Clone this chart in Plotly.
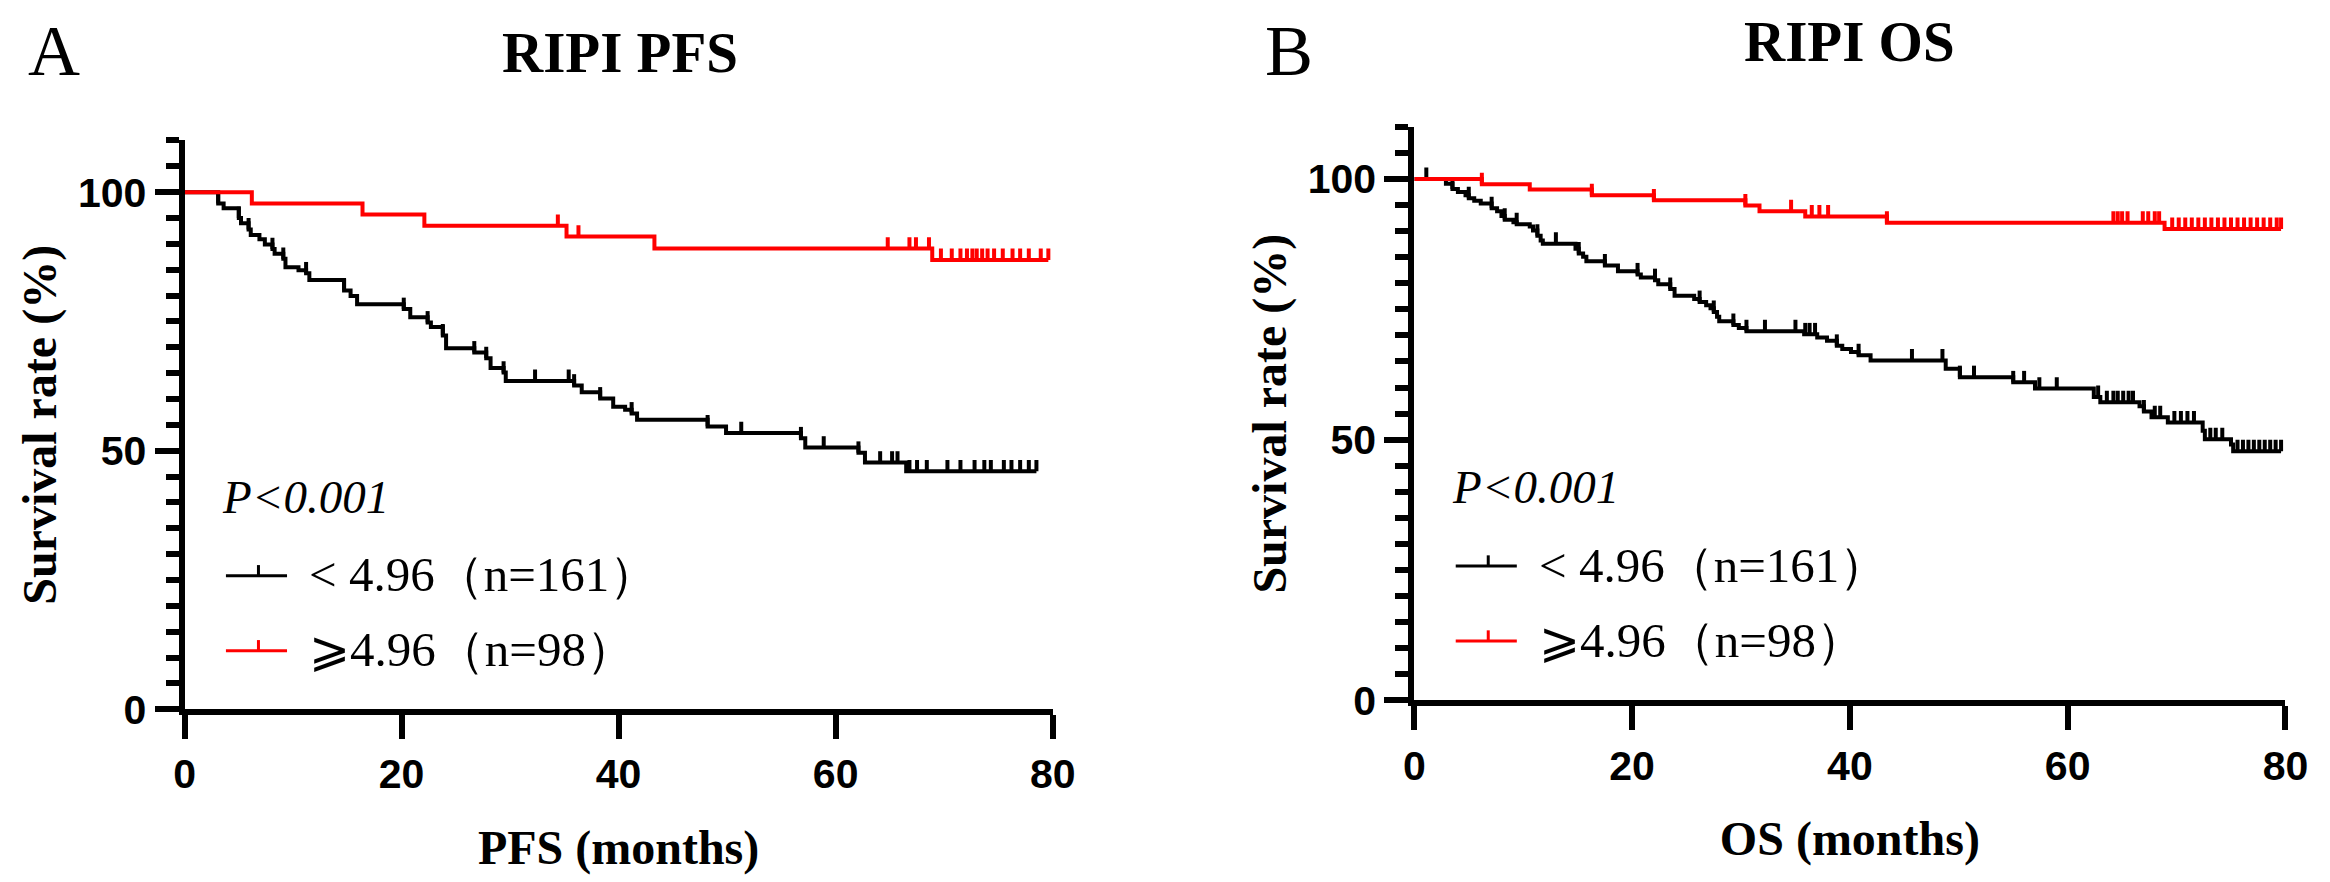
import plotly.graph_objects as go

W, H = 2330, 882

# ---- data (months, survival %) ----
pfs_low_t = [0, 3.1, 3.6, 5.0, 5.2, 5.9, 6.1, 6.9, 7.4, 8.1, 8.3, 9.1, 9.3, 10.5, 11.2, 11.5, 14.7, 15.3, 15.9, 20.2,
             20.8, 22.4, 22.7, 23.8, 24.1, 26.7, 27.8, 28.2, 29.4, 29.6, 35.9, 36.6, 38.3, 39.5, 40.6, 41.2, 41.7, 48.2, 49.9, 56.8,
             57.2, 62.1, 62.7, 66.5]
pfs_low_s = [100, 97.8, 96.9, 95.0, 94.0, 92.8, 91.7, 90.9, 89.9, 89.0, 88.1, 87.1, 85.5, 84.9, 84.3, 83.0, 81.0, 79.9, 78.3, 77.4,
             75.8, 74.8, 73.9, 72.3, 69.8, 69.0, 67.9, 66.0, 65.1, 63.5, 62.6, 61.3, 60.1, 58.5, 57.9, 57.2, 56.0, 54.7, 53.4, 52.4,
             50.6, 49.6, 47.7, 46.0]
pfs_low_c = [3.1, 5.0, 5.9, 8.1, 9.1, 11.2, 14.7, 20.2, 22.4, 23.8, 26.7, 27.8, 29.4, 32.3, 35.4, 35.9, 38.3, 41.2, 48.2, 51.3,
             56.8, 58.9, 62.1, 64.1, 65.2, 65.7, 66.8, 67.5, 68.4, 70.3, 71.5, 72.8, 73.7, 74.3, 75.5, 76.2, 77.0, 77.8, 78.5]

pfs_high_t = [0, 6.2, 16.4, 22.1, 35.2, 43.3, 68.9]
pfs_high_s = [100, 97.8, 95.7, 93.5, 91.4, 89.1, 86.9]
pfs_high_c = [34.4, 36.3, 64.8, 66.8, 67.4, 68.6, 69.7, 70.7, 71.5, 72.1, 72.6, 73.0, 73.5, 74.0, 74.6, 75.4, 76.3, 77.0,
              77.8, 78.9, 79.6]

os_low_t = [0, 2.9, 3.5, 4.0, 4.7, 5.0, 5.5, 6.1, 7.1, 7.6, 8.0, 8.3, 9.1, 9.4, 10.6, 10.9, 11.3, 11.6, 11.8, 14.8,
            15.1, 15.5, 15.8, 17.5, 18.7, 20.5, 20.8, 22.1, 22.4, 23.5, 23.9, 25.7, 26.2, 26.8, 27.2, 27.5, 27.8, 28.0, 29.3, 29.8,
            30.5, 35.8, 37.0, 37.9, 38.8, 39.3, 40.1, 40.8, 41.9, 48.8, 50.1, 55.0, 57.0, 62.4, 63.0, 66.6, 67.0, 67.7, 69.2, 72.4,
            72.6, 75.0, 75.2]
os_low_s = [100, 99.1, 98.1, 97.5, 96.9, 96.3, 95.8, 95.3, 94.4, 93.8, 92.9, 92.2, 91.7, 91.3, 90.9, 90.1, 89.1, 88.2, 87.6, 86.6,
            85.7, 85.1, 84.2, 83.4, 82.3, 81.7, 81.1, 80.6, 79.8, 78.9, 77.6, 77.0, 76.4, 75.8, 75.2, 74.5, 73.6, 72.7, 72.0, 71.4,
            70.8, 70.2, 69.6, 69.0, 68.0, 67.4, 66.8, 66.2, 65.2, 63.6, 62.0, 61.0, 59.8, 58.2, 57.2, 56.4, 55.4, 54.3, 53.3, 51.7,
            50.1, 49.1, 47.8]
os_low_c = [1.1, 3.5, 5.0, 7.1, 8.3, 9.4, 11.3, 13.0, 15.1, 17.5, 20.5, 22.1, 23.5, 26.2, 27.5, 29.3, 30.5, 32.2, 35.0, 35.9,
            36.3, 36.8, 38.8, 40.8, 45.7, 48.5, 50.1, 51.4, 55.0, 56.0, 57.4, 59.0, 62.8, 63.6, 64.2, 64.6, 65.1, 65.6, 66.0, 67.0,
            68.0, 68.5, 69.8, 70.4, 71.0, 71.6, 73.1, 73.6, 74.2, 75.6, 76.1, 76.6, 77.1, 77.6, 78.1, 78.6, 79.1, 79.6]

os_high_t = [0, 6.2, 10.6, 16.3, 22.0, 30.4, 31.7, 35.9, 43.4, 68.9]
os_high_s = [100, 99.0, 98.0, 96.9, 95.9, 94.9, 93.8, 92.8, 91.6, 90.4]
os_high_c = [6.2, 16.3, 22.0, 30.4, 34.6, 36.5, 37.2, 38.0, 43.4, 64.2, 64.6, 65.0, 65.5, 66.9, 67.4, 68.0, 68.4, 69.6,
             70.2, 70.8, 71.4, 72.0, 72.6, 73.2, 73.8, 74.4, 75.0, 75.6, 76.2, 76.8, 77.4, 78.0, 78.6, 79.2, 79.6]

group_labels = ["&lt; 4.96（n=161）", "⩾4.96（n=98）"]
group_colors = ["#000000", "#ff0000"]

SERIF = "Liberation Serif, Times New Roman, serif"
SANS = "Liberation Sans, Arial, sans-serif"
TICK_H = 2.2  # censor tick height in % units
LW = 4


def px(x):
    return x / W


def py(y):
    return 1 - y / H


def surv_at(ts, ss, t):
    v = ss[0]
    for a, b in zip(ts, ss):
        if a <= t:
            v = b
    return v


def add_curve(fig, ts, ss, cens, color, xa, ya):
    end = max(cens + ts)
    fig.add_trace(go.Scatter(x=ts + [end], y=ss + [ss[-1]], mode="lines", line=dict(color=color, width=LW, shape="hv"),
                             xaxis=xa, yaxis=ya, showlegend=False, hoverinfo="skip"))
    cx, cy = [], []
    for c in cens:
        v = surv_at(ts, ss, c)
        cx += [c, c, None]
        cy += [v, v + TICK_H, None]
    fig.add_trace(go.Scatter(x=cx, y=cy, mode="lines", line=dict(color=color, width=LW),
                             xaxis=xa, yaxis=ya, showlegend=False, hoverinfo="skip"))


fig = go.Figure()
add_curve(fig, pfs_low_t, pfs_low_s, pfs_low_c, group_colors[0], "x", "y")
add_curve(fig, pfs_high_t, pfs_high_s, pfs_high_c, group_colors[1], "x", "y")
add_curve(fig, os_low_t, os_low_s, os_low_c, group_colors[0], "x2", "y2")
add_curve(fig, os_high_t, os_high_s, os_high_c, group_colors[1], "x2", "y2")

tickfont = dict(family=SANS, size=41, color="black", weight="bold")
xcommon = dict(range=[0, 80], tickmode="linear", tick0=0, dtick=20, ticks="outside", ticklen=24, tickwidth=6,
               tickcolor="black", showline=True, linewidth=6, linecolor="black", showgrid=False, zeroline=False,
               tickfont=tickfont)
ycommon = dict(range=[0, 110], tickmode="linear", tick0=0, dtick=50, ticks="outside", ticklen=24, tickwidth=6,
               tickcolor="black", showline=True, linewidth=6, linecolor="black", showgrid=False, zeroline=False,
               minor=dict(tickmode="linear", tick0=0, dtick=5, ticks="outside", ticklen=13, tickwidth=6,
                          tickcolor="black", showgrid=False),
               tickfont=tickfont)
title_font = dict(family=SERIF, size=48, color="black", weight="bold")

fig.update_layout(
    width=W, height=H, margin=dict(l=0, r=0, t=0, b=0),
    paper_bgcolor="white", plot_bgcolor="white", showlegend=False,
    xaxis=dict(domain=[px(168), px(1049)], anchor="y",
               title=dict(text="PFS (months)", font=title_font, standoff=36), **xcommon),
    yaxis=dict(domain=[py(720), py(136)], anchor="x",
               title=dict(text="Survival rate (%)", font=title_font, standoff=8), **ycommon),
    xaxis2=dict(domain=[px(1416), px(2300)], anchor="y2",
                title=dict(text="OS (months)", font=title_font, standoff=36), **xcommon),
    yaxis2=dict(domain=[py(711), py(122)], anchor="x2",
                title=dict(text="Survival rate (%)", font=title_font, standoff=8), **ycommon),
)

# panel letters and titles
for txt, x, y, size, bold, anchor in [("A", 7, 44, 72, False, "left"), ("RIPI PFS", 610, 46, 57, True, "center"),
                                      ("B", 1262, 44, 72, False, "left"), ("RIPI OS", 1858, 34, 57, True, "center")]:
    fig.add_annotation(text=txt, x=px(x), y=py(y), xref="paper", yref="paper", xanchor=anchor, yanchor="middle",
                       showarrow=False, font=dict(family=SERIF, size=size, color="black",
                                                  weight="bold" if bold else "normal"))

# p-values and legends
for ax, oy in [(168, 0), (1416, -10)]:
    fig.add_annotation(text="P&lt;0.001", x=px(ax + 36), y=py(502 + oy), xref="paper", yref="paper",
                       xanchor="left", yanchor="middle", showarrow=False,
                       font=dict(family=SERIF, size=47, color="black", style="italic"))
    for i, (lab, col) in enumerate(zip(group_labels, group_colors)):
        ly = 583 + oy + i * 77
        fig.add_shape(type="line", xref="paper", yref="paper", x0=px(ax + 42), x1=px(ax + 104), y0=py(ly), y1=py(ly),
                      line=dict(color=col, width=3))
        fig.add_shape(type="line", xref="paper", yref="paper", x0=px(ax + 75), x1=px(ax + 75), y0=py(ly), y1=py(ly - 11),
                      line=dict(color=col, width=3))
        fig.add_annotation(text=lab, x=px(ax + 124), y=py(ly - 1), xref="paper", yref="paper",
                           xanchor="left", yanchor="middle", showarrow=False,
                           font=dict(family=SERIF, size=49, color="black"))

fig.write_html("out.html")
